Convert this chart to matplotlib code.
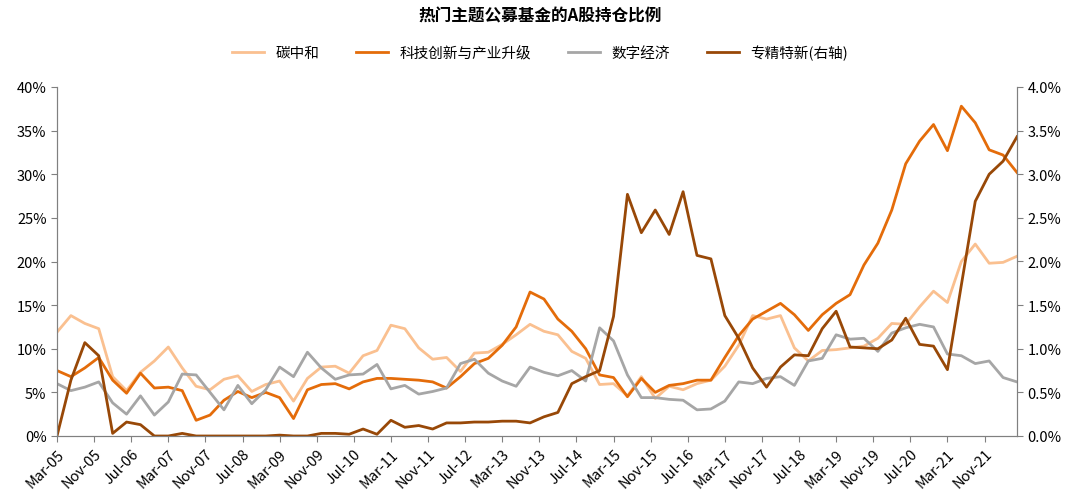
import numpy as np
import pandas as pd
import matplotlib.pyplot as plt
from matplotlib.ticker import FuncFormatter, MultipleLocator

plt.rcParams['font.family'] = ['Noto Sans CJK SC', 'DejaVu Sans']

dates = pd.date_range('2005-03-31', periods=70, freq='QE')

carbon = [11.9, 13.8, 12.9, 12.3, 6.8, 5.2, 7.3, 8.6, 10.2, 7.8, 5.7, 5.3, 6.5, 6.9, 5.1, 5.9, 6.3, 4.0,
          6.6, 7.9, 8.0, 7.2, 9.2, 9.8, 12.7, 12.3, 10.1, 8.8, 9.0, 7.4, 9.5, 9.6, 10.5, 11.6,
          12.8, 12.0, 11.6, 9.7, 8.9, 5.9, 6.0, 4.6, 6.8, 4.3, 5.7, 5.3, 6.0, 6.4, 8.0, 10.4, 13.8, 13.4,
          13.8, 10.1, 8.6, 9.8, 9.9, 10.1, 10.3, 11.2, 12.9, 12.8, 14.8, 16.6, 15.3, 20.0, 22.0, 19.8, 19.9, 20.6]
tech = [7.5, 6.8, 7.8, 9.0, 6.4, 4.9, 7.2, 5.5, 5.6, 5.2, 1.8, 2.4, 4.1, 5.1, 4.4, 5.0, 4.4, 2.0,
        5.3, 5.9, 6.0, 5.4, 6.2, 6.6, 6.6, 6.5, 6.4, 6.2, 5.5, 6.8, 8.3, 8.9, 10.4, 12.5,
        16.5, 15.7, 13.4, 12.0, 10.0, 7.0, 6.7, 4.5, 6.6, 5.0, 5.8, 6.0, 6.4, 6.4, 9.0, 11.5, 13.4, 14.3,
        15.2, 13.9, 12.1, 13.9, 15.2, 16.2, 19.6, 22.1, 25.9, 31.2, 33.8, 35.7, 32.7, 37.8, 35.9, 32.8, 32.2, 30.2]
digital = [6.0, 5.2, 5.6, 6.2, 3.8, 2.5, 4.6, 2.4, 3.9, 7.1, 7.0, 5.0, 3.0, 5.8, 3.7, 5.3, 7.9, 6.8,
           9.6, 7.8, 6.5, 7.0, 7.1, 8.2, 5.4, 5.8, 4.8, 5.1, 5.5, 8.3, 8.8, 7.2, 6.3, 5.7,
           7.9, 7.3, 6.9, 7.5, 6.3, 12.4, 10.9, 7.0, 4.4, 4.4, 4.2, 4.1, 3.0, 3.1, 4.0, 6.2, 6.0, 6.6,
           6.8, 5.8, 8.6, 8.9, 11.6, 11.1, 11.2, 9.7, 11.8, 12.4, 12.8, 12.5, 9.4, 9.2, 8.3, 8.6, 6.7, 6.2]
special = [0.0, 0.64, 1.07, 0.92, 0.03, 0.16, 0.13, 0.0, 0.0, 0.03, 0.0, 0.0, 0.0, 0.0, 0.0, 0.0, 0.01, 0.0,
           0.0, 0.03, 0.03, 0.02, 0.08, 0.02, 0.18, 0.10, 0.12, 0.08, 0.15, 0.15, 0.16, 0.16, 0.17, 0.17,
           0.15, 0.22, 0.27, 0.60, 0.68, 0.75, 1.37, 2.77, 2.33, 2.59, 2.31, 2.80, 2.07, 2.03, 1.38, 1.12, 0.78, 0.56,
           0.79, 0.93, 0.92, 1.23, 1.43, 1.02, 1.01, 1.00, 1.10, 1.35, 1.05, 1.03, 0.76, 1.73, 2.69, 3.00, 3.15, 3.43]

tick_labels = pd.date_range('2005-03-01', '2021-11-30', freq='8MS').strftime('%b-%y')

x = np.arange(len(dates))
tick_pos = np.arange(len(tick_labels)) * 8 / 3

fig = plt.figure(figsize=(10.8, 5.02), dpi=100)
ax = fig.add_axes([57 / 1080, 65 / 502, 960 / 1080, 349 / 502])
ax2 = ax.twinx()

l1, = ax.plot(x, carbon, color='#FAC090', lw=2, label='碳中和')
l2, = ax.plot(x, tech, color='#E46C0A', lw=2, label='科技创新与产业升级')
l3, = ax.plot(x, digital, color='#A6A6A6', lw=2, label='数字经济')
l4, = ax2.plot(x, special, color='#984807', lw=2, label='专精特新(右轴)')

ax.set_xlim(0, len(x) - 1)
ax.set_ylim(0, 40)
ax2.set_ylim(0, 4)
ax.yaxis.set_major_locator(MultipleLocator(5))
ax2.yaxis.set_major_locator(MultipleLocator(0.5))
ax.yaxis.set_major_formatter(FuncFormatter(lambda v, p: f'{v:.0f}%'))
ax2.yaxis.set_major_formatter(FuncFormatter(lambda v, p: f'{v:.1f}%'))
ax.set_xticks(tick_pos)
ax.set_xticklabels(tick_labels, rotation=45, ha='right', rotation_mode='anchor', fontsize=10.5)

for a in (ax, ax2):
    for s in ('top',):
        a.spines[s].set_visible(False)
    for s in ('left', 'right', 'bottom'):
        a.spines[s].set_color('#808080')
    a.tick_params(axis='y', labelsize=10.5, color='#808080', length=4)
    a.tick_params(axis='x', color='#808080', length=4)

fig.suptitle('热门主题公募基金的A股持仓比例', fontsize=12, fontweight='bold', y=0.985)
fig.legend(handles=[l1, l2, l3, l4], loc='upper center', bbox_to_anchor=(0.5, 0.935),
           ncol=4, frameon=False, fontsize=10.5, handlelength=2.2, columnspacing=2.5)

fig.savefig('out.png', dpi=100)
